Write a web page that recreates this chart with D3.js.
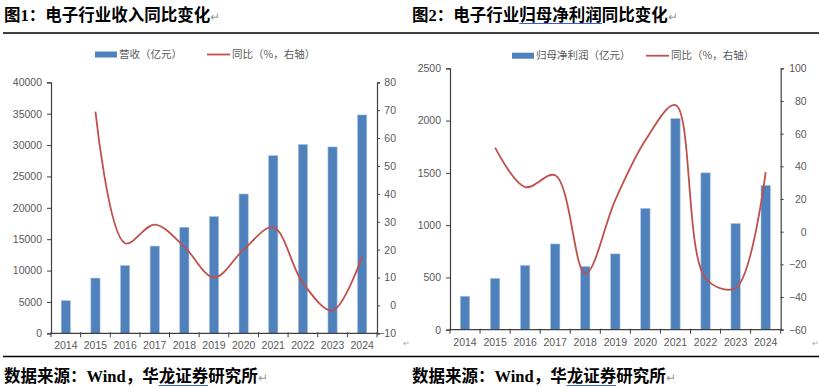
<!DOCTYPE html>
<html><head><meta charset="utf-8">
<script src="https://cdn.jsdelivr.net/npm/d3@7/dist/d3.min.js"></script>
<style>
html,body{margin:0;padding:0;background:#fff;}
svg{display:block;}
</style></head>
<body>
<svg id="c" width="819" height="387"></svg>
<script>
const years = ["2014","2015","2016","2017","2018","2019","2020","2021","2022","2023","2024"];
const revenue = [5200, 8800, 10800, 13900, 16900, 18600, 22200, 28300, 30100, 29700, 34800];
const revenueYoY = [null, 69.5, 22.3, 29, 21, 10, 20, 28, 8, -1.8, 17.6];
const profit = [320, 490, 615, 820, 605, 725, 1160, 2020, 1500, 1015, 1380];
const profitYoY = [null, 51.4, 27.3, 34.5, -25.7, 19.5, 56, 77.5, -28.5, -34.5, 36.4];
const leftTicks1 = [0,5000,10000,15000,20000,25000,30000,35000,40000];
const rightTicks1 = [-10,0,10,20,30,40,50,60,70,80];
const leftTicks2 = [0,500,1000,1500,2000,2500];
const rightTicks2 = [-60,-40,-20,0,20,40,60,80,100];
const titles = ["图1：电子行业收入同比变化", "图2：电子行业归母净利润同比变化"];
const legendBar = ["营收（亿元）", "归母净利润（亿元）"];
const legendLine = "同比（%，右轴）";
const sourceText = "数据来源：Wind，华龙证券研究所";

const svg = d3.select("#c");
const BLUE = "#4F81BD", RED = "#C0504D", AX = "#404040", TXT = "#595959";
const tickFont = "'Liberation Sans', Arial, sans-serif";
const cjkFont = "'Noto Sans CJK SC', sans-serif";
const titleFont = "'Liberation Serif', 'Noto Sans CJK SC', serif";

// header / footer rules
svg.append("line").attr("x1",3).attr("x2",819).attr("y1",33).attr("y2",33).attr("stroke","#000").attr("stroke-width",1.6);
svg.append("line").attr("x1",3).attr("x2",819).attr("y1",356.5).attr("y2",356.5).attr("stroke","#000").attr("stroke-width",1.5);

function drawChart(cfg){
  const g = svg.append("g");
  const x = d3.scaleBand().domain(years).range([cfg.x0, cfg.x1]).paddingInner(0.69).paddingOuter(0.345);
  const yL = d3.scaleLinear().domain(cfg.leftDomain).range([cfg.yb, cfg.yt]);
  const yR = d3.scaleLinear().domain(cfg.rightDomain).range([cfg.yb, cfg.yt]);

  // bars
  g.selectAll("rect.bar").data(cfg.bars).join("rect")
    .attr("x",(d,i)=>x(years[i])).attr("width",x.bandwidth())
    .attr("y",d=>yL(d)).attr("height",d=>yL(0)-yL(d))
    .attr("fill",BLUE).attr("stroke","#A7C0DE").attr("stroke-width",0.6);

  // left axis
  const la = g.append("g").attr("transform",`translate(${cfg.x0},0)`)
    .call(d3.axisLeft(yL).tickValues(cfg.leftTicks).tickSize(4).tickPadding(5).tickFormat(d3.format("d")));
  la.select(".domain").attr("stroke",AX).attr("stroke-width",1.2);
  la.selectAll(".tick line").attr("stroke",AX);
  la.selectAll("text").attr("font-family",tickFont).attr("font-size",10.5).attr("fill",TXT);

  // right axis
  const ra = g.append("g").attr("transform",`translate(${cfg.x1},0)`)
    .call(d3.axisRight(yR).tickValues(cfg.rightTicks).tickSize(3).tickPadding(4).tickFormat(d=>d<0?"\u2212"+Math.abs(d):d));
  ra.select(".domain").attr("stroke",AX).attr("stroke-width",1.2);
  ra.selectAll(".tick line").attr("stroke",AX);
  ra.selectAll("text").attr("font-family",tickFont).attr("font-size",10.5).attr("fill",TXT)
    .attr("text-anchor","end").attr("x",cfg.rightLabelEnd);

  // x axis
  g.append("line").attr("x1",cfg.x0).attr("x2",cfg.x1).attr("y1",yL(0)).attr("y2",yL(0)).attr("stroke",AX).attr("stroke-width",1.2);
  const bounds = d3.range(years.length+1).map(i=>cfg.x0 + i*x.step());
  g.selectAll("line.xt").data(bounds).join("line")
    .attr("x1",d=>d).attr("x2",d=>d).attr("y1",yL(0)-1).attr("y2",yL(0)+4).attr("stroke",AX);
  g.selectAll("text.xl").data(years).join("text")
    .attr("x",d=>x(d)+x.bandwidth()/2).attr("y",yL(0)+cfg.xLabelDy)
    .attr("text-anchor","middle").attr("font-family",tickFont).attr("font-size",10.5).attr("fill",TXT).text(d=>d);

  // line
  const pts = cfg.line.map((v,i)=>[x(years[i])+x.bandwidth()/2, v]).filter(p=>p[1]!==null);
  const line = d3.line().x(p=>p[0]).y(p=>yR(p[1])).curve(d3.curveCatmullRom.alpha(0.5));
  g.append("path").datum(pts).attr("d",line).attr("fill","none").attr("stroke",RED).attr("stroke-width",1.8);

  // legend
  const lg = g.append("g");
  lg.append("rect").attr("x",cfg.legBarX).attr("y",cfg.legY-3).attr("width",22).attr("height",6).attr("fill",BLUE);
  lg.append("text").attr("x",cfg.legBarX+24).attr("y",cfg.legY).attr("dy","0.35em")
    .attr("font-family",cjkFont).attr("font-size",10.5).attr("fill",TXT).text(cfg.legBar);
  lg.append("line").attr("x1",cfg.legLineX).attr("x2",cfg.legLineX+23).attr("y1",cfg.legY).attr("y2",cfg.legY).attr("stroke",RED).attr("stroke-width",1.8);
  lg.append("text").attr("x",cfg.legLineX+25).attr("y",cfg.legY).attr("dy","0.35em")
    .attr("font-family",cjkFont).attr("font-size",10.5).attr("fill",TXT).text(legendLine);

  // small return mark
  g.append("text").attr("x",cfg.markX).attr("y",346).attr("font-family",tickFont).attr("font-size",8).attr("fill","#aaa").text("\u21B5");

  // title
  const t = g.append("text").attr("x",cfg.titleX).attr("y",21).attr("font-family",titleFont).attr("font-weight","bold").attr("font-size",16.5).attr("fill","#000");
  t.append("tspan").text(cfg.title);
  t.append("tspan").attr("font-weight","normal").attr("font-size",12).attr("fill","#999").text("\u21B5");

  // source
  const s = g.append("text").attr("x",cfg.titleX).attr("y",382).attr("font-family",titleFont).attr("font-weight","bold").attr("font-size",16.5).attr("fill","#000");
  s.append("tspan").text(sourceText);
  s.append("tspan").attr("font-weight","normal").attr("font-size",12).attr("fill","#999").text("\u21B5");
  return {t, s};
}

const c1 = drawChart({x0:51, x1:377, yt:82.3, yb:333.3, leftDomain:[0,40000], rightDomain:[-10,80],
  leftTicks:leftTicks1, rightTicks:rightTicks1, bars:revenue, line:revenueYoY, rightLabelEnd:19, xLabelDy:16,
  legY:54.5, legBarX:95, legLineX:207, legBar:legendBar[0], title:titles[0], titleX:4, markX:403});
const c2 = drawChart({x0:450, x1:780.7, yt:68.3, yb:329.7, leftDomain:[0,2500], rightDomain:[-60,100],
  leftTicks:leftTicks2, rightTicks:rightTicks2, bars:profit, line:profitYoY, rightLabelEnd:26, xLabelDy:16,
  legY:55.7, legBarX:512, legLineX:646, legBar:legendBar[1], title:titles[1], titleX:412, markX:812});

// blue proofing underlines (from text measurements)
function underline(textSel, startChar, endChar, y){
  const node = textSel.select("tspan").node();
  const a = node.getStartPositionOfChar(startChar).x;
  const b = node.getEndPositionOfChar(endChar).x;
  svg.append("line").attr("x1",a).attr("x2",b).attr("y1",y).attr("y2",y).attr("stroke","#3366CC").attr("stroke-width",1);
}
underline(c2.t, 7, 11, 23.5);
underline(c1.s, 11, 13, 385.5);
underline(c2.s, 11, 13, 385.5);
</script>
</body></html>
